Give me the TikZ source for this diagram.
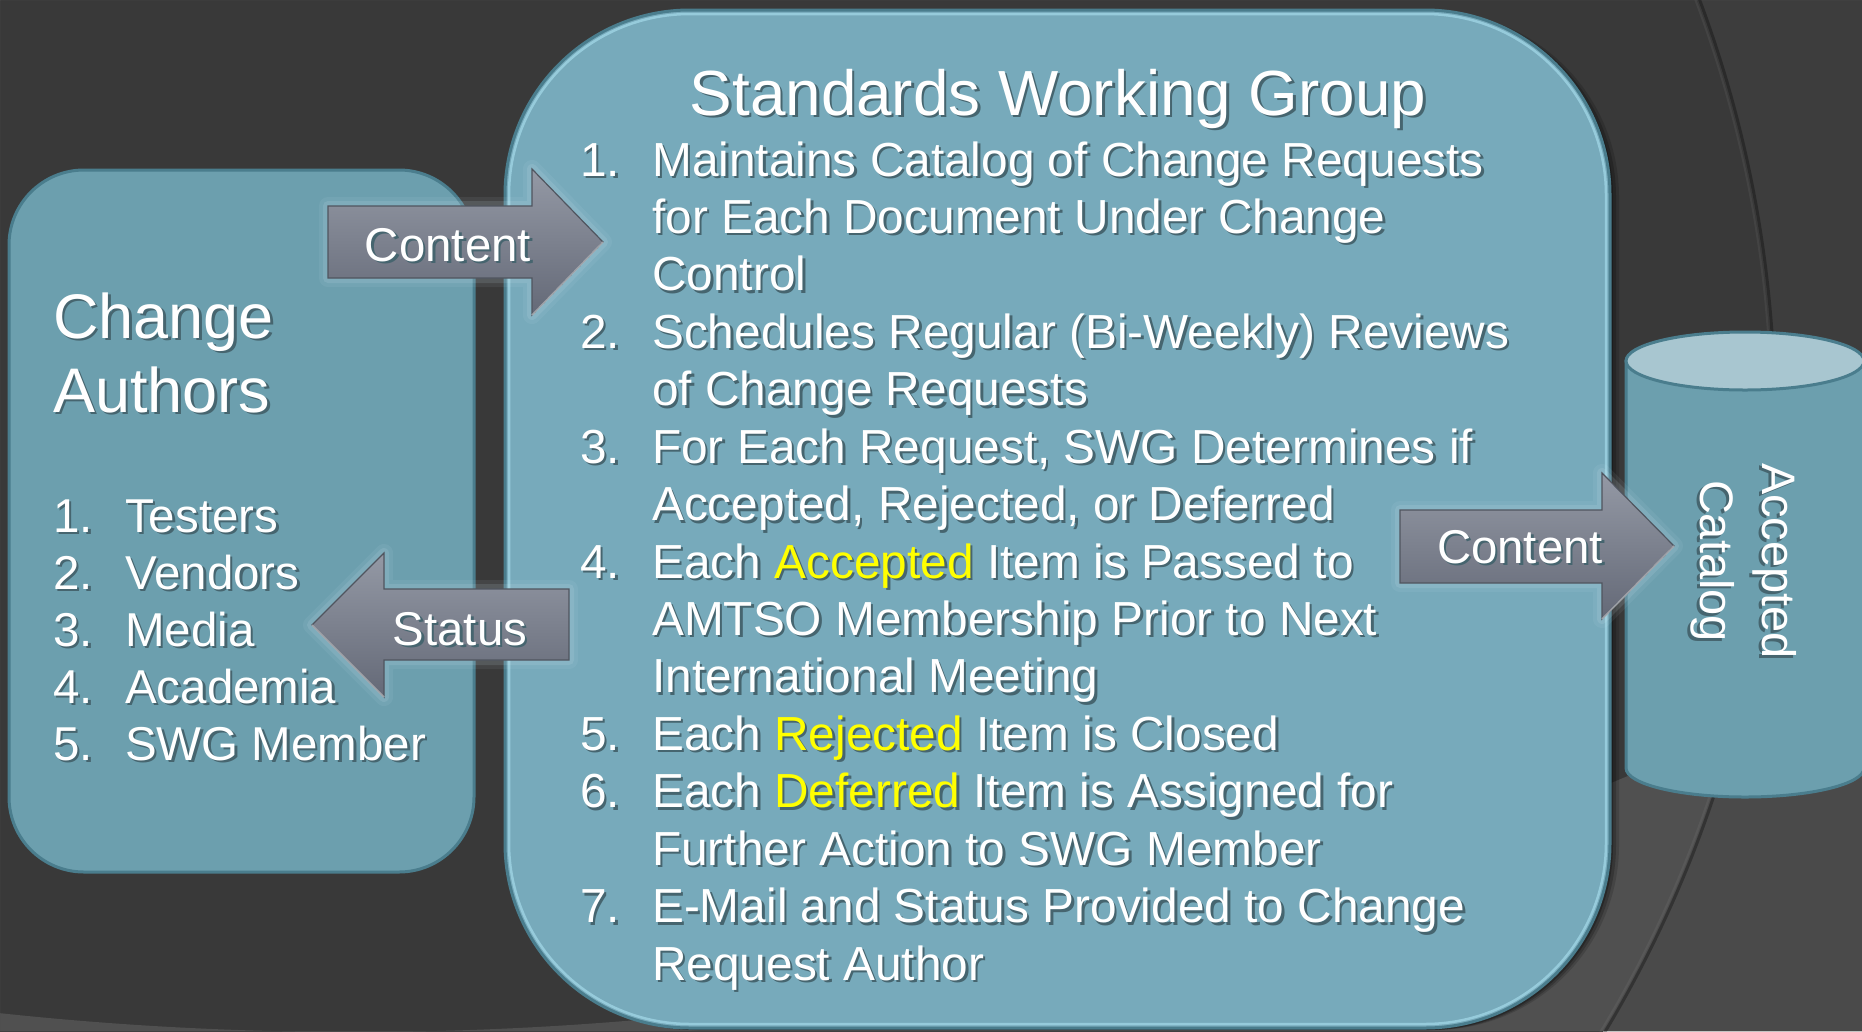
\documentclass[tikz,border=0pt]{standalone}
\usepackage{fontspec}
\setmainfont{Liberation Sans}
\definecolor{bgdark}{HTML}{393939}
\definecolor{bgarc}{HTML}{3D3D3D}
\definecolor{bglow}{HTML}{505050}
\definecolor{bglowarc}{HTML}{4A4A4A}
\definecolor{swgfill}{HTML}{77AABB}
\definecolor{authfill}{HTML}{6C9FAE}
\definecolor{boxedge}{HTML}{4A7D8D}
\definecolor{bevel}{HTML}{A8DDED}
\definecolor{cyltop}{HTML}{A8C6D0}
\definecolor{arrtop}{HTML}{9499A5}
\definecolor{arrbot}{HTML}{646977}
\definecolor{arredge}{HTML}{50555F}
\definecolor{glowc}{HTML}{D8EEF5}
\definecolor{txtsh}{HTML}{46656F}
\definecolor{hly}{HTML}{FFFF00}
% highlighted word
\newcommand\hl[1]{\textcolor{hly}{#1}}
% text with a soft drop shadow
\newcommand\shd[1]{\leavevmode\rlap{\kern2.5pt\lower2.5pt\hbox{\let\hl\relax\color{txtsh}#1}}#1}
% one list line: number column and text
\newcommand\li[2]{\hbox{\shd{\makebox[72pt][l]{#1}#2}}}
\newcommand\fs[2]{\fontsize{#1}{#2}\selectfont}
\begin{document}
\begin{tikzpicture}[x=1pt,y=-1pt,
  txt/.style={text=white, inner sep=0pt},
  authbox/.style={draw=boxedge, line width=3pt, fill=authfill, rounded corners=75pt, inner sep=0pt},
  swgbox/.style={draw=boxedge, line width=3pt, fill=swgfill, rounded corners=185pt, inner sep=0pt},
  blockarrow/.style={top color=arrtop, bottom color=arrbot, draw=arredge, line width=1.2pt,
    preaction={draw=glowc, line width=18pt, opacity=.07, line join=round},
    preaction={draw=glowc, line width=10pt, opacity=.12, line join=round}},
  arrowlit/.style={draw=white, opacity=.45, line width=1.5pt}
]
\useasboundingbox (0,0) rectangle (1862,1031);

% ---- backdrop ----
\fill[bgdark] (0,0) rectangle (1862,1031);
\begin{scope}
  \clip (0,0) rectangle (1862,1031);
  \fill[bgarc, even odd rule] (0,0) rectangle (1862,1031) (583,418) circle[radius=1190];
  \fill[bglow, even odd rule] (0,0) rectangle (1862,1031) (354,-2254) circle[radius=3286];
  \begin{scope}[even odd rule]
    \clip (0,0) rectangle (1862,1031) (354,-2254) circle[radius=3286];
    \fill[bglowarc] (0,0) rectangle (1862,1031) (583,418) circle[radius=1190];
  \end{scope}
  \draw[black, opacity=.3, line width=3pt] (583,418) circle[radius=1192];
  \draw[white, opacity=.05, line width=2pt] (583,418) circle[radius=1188];
\end{scope}

% ---- Change Authors box ----
\node[authbox, minimum width=465pt, minimum height=702pt] (authors) at (241.5,521) {};

% ---- Standards Working Group box ----
\foreach \o/\a in {3/.25,6/.2,9/.15}
  \fill[black, opacity=\a, rounded corners=185pt] (505+\o,12) rectangle (1610+\o,1030);
\node[swgbox, minimum width=1105pt, minimum height=1018pt] (swg) at (1057.5,519) {};
\draw[bevel, line width=2.5pt, opacity=.65, rounded corners=181pt] (509,14) rectangle (1606,1024);

% ---- Accepted catalog cylinder ----
\fill[authfill, draw=boxedge, line width=3pt] (1626,361) -- (1626,768)
  arc[start angle=180, end angle=0, x radius=119, y radius=29] -- (1864,361) -- cycle;
\filldraw[fill=cyltop, draw=boxedge, line width=3pt] (1745,361) ellipse[x radius=119, y radius=29];

% ---- block arrows ----
\path[blockarrow] (328,206) -- (532,206) -- (532,169) -- (603,242) -- (532,315) -- (532,278) -- (328,278) -- cycle;
\draw[arrowlit] (603,242) -- (532,315);
\path[blockarrow] (569,589) -- (384,589) -- (384,553) -- (312,625) -- (384,697) -- (384,660) -- (569,660) -- cycle;
\draw[arrowlit] (312,625) -- (384,697);
\path[blockarrow] (1400,510) -- (1602,510) -- (1602,473) -- (1674,546) -- (1602,619) -- (1602,583) -- (1400,583) -- cycle;
\draw[arrowlit] (1674,546) -- (1602,619);

% ---- texts ----
\node[txt, anchor=base, font=\fs{47.4}{57}] (lblc1) at (448,261) {\shd{Content}};
\node[txt, anchor=base, font=\fs{47.4}{57}] (lbls) at (460,645) {\shd{Status}};
\node[txt, anchor=base, font=\fs{47.4}{57}] (lblc2) at (1520,563) {\shd{Content}};

\node[txt, anchor=base west, font=\fs{63}{74}] (authtitle) at (53,338)
  {\vtop{\baselineskip=74pt\lineskiplimit=-1000pt \hbox{\shd{Change}}\hbox{\shd{Authors}}}};
\node[txt, anchor=base west, font=\fs{47.5}{57}] (authlist) at (53,532)
  {\vtop{\baselineskip=57pt\lineskiplimit=-1000pt
    \li{1.}{Testers}\li{2.}{Vendors}\li{3.}{Media}\li{4.}{Academia}\li{5.}{SWG Member}}};

\node[txt, anchor=base, font=\fs{63.8}{76}] (swgtitle) at (1058,115) {\shd{Standards Working Group}};
\node[txt, anchor=base west, font=\fs{47.8}{57.43}] (swglist) at (580,176)
  {\vtop{\baselineskip=57.43pt\lineskiplimit=-1000pt
    \li{1.}{Maintains Catalog of Change Requests}
    \li{}{for Each Document Under Change}
    \li{}{Control}
    \li{2.}{Schedules Regular (Bi-Weekly) Reviews}
    \li{}{of Change Requests}
    \li{3.}{For Each Request, SWG Determines if}
    \li{}{Accepted, Rejected, or Deferred}
    \li{4.}{Each \hl{Accepted} Item is Passed to}
    \li{}{AMTSO Membership Prior to Next}
    \li{}{International Meeting}
    \li{5.}{Each \hl{Rejected} Item is Closed}
    \li{6.}{Each \hl{Deferred} Item is Assigned for}
    \li{}{Further Action to SWG Member}
    \li{7.}{E-Mail and Status Provided to Change}
    \li{}{Request Author}}};

\node[txt, rotate=-90, align=center, font=\fs{47}{62}] (cattext) at (1742,561)
  {\shd{Accepted}\\\shd{Catalog}};
\end{tikzpicture}
\end{document}
